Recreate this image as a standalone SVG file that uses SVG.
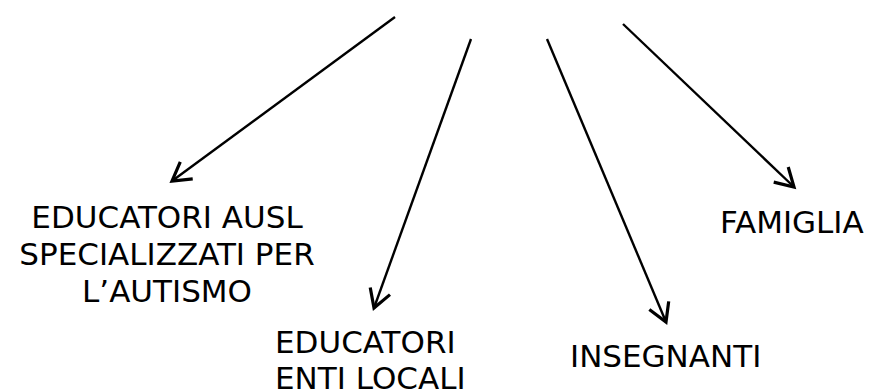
<svg xmlns="http://www.w3.org/2000/svg" width="885" height="391" viewBox="0 0 885 391">
<style>
.lbl{font-family:"DejaVu Sans",sans-serif;font-size:31px;fill:#000}
.c{stroke:#000;stroke-width:2.4;fill:none}
</style>
<defs>
<marker id="ah" markerUnits="userSpaceOnUse" markerWidth="30" markerHeight="30" viewBox="-25 -15 30 30" refX="0" refY="0" orient="auto">
<path d="M-18,-10.5 L0,0 L-18,10.5" fill="none" stroke="#000" stroke-width="3.2"/>
</marker>
</defs>
<rect width="885" height="391" fill="#fff"/>
<g id="connectors">
<line class="c" x1="395" y1="17" x2="172" y2="181" marker-end="url(#ah)"/>
<line class="c" x1="471" y1="39" x2="374" y2="308" marker-end="url(#ah)"/>
<line class="c" x1="547" y1="39" x2="666" y2="322" marker-end="url(#ah)"/>
<line class="c" x1="623" y1="24" x2="794" y2="187" marker-end="url(#ah)"/>
</g>
<g id="node-ausl">
<text class="lbl" x="167" y="228" text-anchor="middle">EDUCATORI AUSL</text>
<text class="lbl" x="167" y="265" text-anchor="middle">SPECIALIZZATI PER</text>
<text class="lbl" x="167" y="302" text-anchor="middle">L’AUTISMO</text>
</g>
<g id="node-enti">
<text class="lbl" x="275" y="353">EDUCATORI</text>
<text class="lbl" x="275" y="389">ENTI LOCALI</text>
</g>
<g id="node-insegnanti">
<text class="lbl" x="570" y="367">INSEGNANTI</text>
</g>
<g id="node-famiglia">
<text class="lbl" x="720" y="233">FAMIGLIA</text>
</g>
</svg>
